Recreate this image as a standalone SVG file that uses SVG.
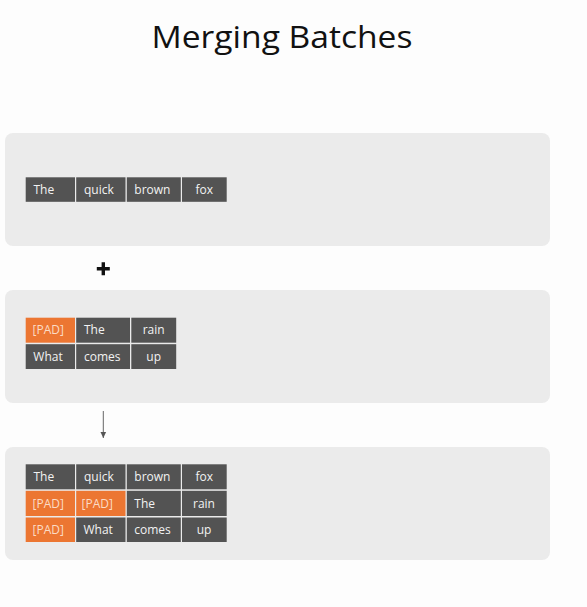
<svg xmlns="http://www.w3.org/2000/svg" width="587" height="607" viewBox="0 0 587 607">
<defs>
<style>
.panel{fill:#ebebeb}
.dark{fill:#535353}
.pad{fill:#ec7632}
.t{font-family:"Open Sans","Liberation Sans",sans-serif;font-size:12px;fill:#f2f2f2}
.tp{font-family:"Open Sans","Liberation Sans",sans-serif;font-size:12px;fill:#fbdcc6}
.c{text-anchor:middle}
.title{font-family:"Open Sans","Liberation Sans",sans-serif;font-size:31px;fill:#111}
</style>
<marker id="ah" markerWidth="8" markerHeight="8" refX="7" refY="4" orient="auto" markerUnits="userSpaceOnUse" viewBox="0 0 8 8">
<path d="M1,1.2 L7,4 L1,6.8 Z" fill="#555"/>
</marker>
</defs>
<rect width="587" height="607" fill="#fdfdfd"/>
<text class="title" x="282" y="48" text-anchor="middle" textLength="261" lengthAdjust="spacingAndGlyphs">Merging Batches</text>

<g id="batch1">
<rect class="panel" x="5" y="133" width="545" height="113" rx="8"/>
<rect class="dark" x="25.7" y="177.3" width="49.3" height="24.5"/>
<rect class="dark" x="76.2" y="177.3" width="49.3" height="24.5"/>
<rect class="dark" x="126.8" y="177.3" width="54" height="24.5"/>
<rect class="dark" x="182" y="177.3" width="44.7" height="24.5"/>
<text class="t" x="33.5" y="193.7">The</text>
<text class="t" x="84" y="193.7">quick</text>
<text class="t" x="134.3" y="193.7">brown</text>
<text class="t c" x="204.3" y="193.7">fox</text>
</g>

<g id="batch2">
<rect class="panel" x="5" y="290" width="545" height="113" rx="8"/>
<rect class="pad" x="25.7" y="317.7" width="49.3" height="25"/>
<rect class="dark" x="76.2" y="317.7" width="53.8" height="25"/>
<rect class="dark" x="131.3" y="317.7" width="44.9" height="25"/>
<rect class="dark" x="25.7" y="344.2" width="49.3" height="24.8"/>
<rect class="dark" x="76.2" y="344.2" width="53.8" height="24.8"/>
<rect class="dark" x="131.3" y="344.2" width="44.9" height="24.8"/>
<text class="tp" x="32.5" y="334.4">[PAD]</text>
<text class="t" x="84" y="334.4">The</text>
<text class="t c" x="153.7" y="334.4">rain</text>
<text class="t" x="33.3" y="360.8">What</text>
<text class="t" x="84" y="360.8">comes</text>
<text class="t c" x="153.7" y="360.8">up</text>
</g>

<g id="merged">
<rect class="panel" x="5" y="447" width="545" height="113" rx="8"/>
<rect class="dark" x="25.7" y="464.3" width="49.3" height="25"/>
<rect class="dark" x="76.2" y="464.3" width="49.3" height="25"/>
<rect class="dark" x="126.8" y="464.3" width="54" height="25"/>
<rect class="dark" x="182" y="464.3" width="44.7" height="25"/>
<rect class="pad" x="25.7" y="490.8" width="49.3" height="25.2"/>
<rect class="pad" x="76.2" y="490.8" width="49.3" height="25.2"/>
<rect class="dark" x="126.8" y="490.8" width="54" height="25.2"/>
<rect class="dark" x="182" y="490.8" width="44.7" height="25.2"/>
<rect class="pad" x="25.7" y="517.5" width="49.3" height="24.5"/>
<rect class="dark" x="76.2" y="517.5" width="49.3" height="24.5"/>
<rect class="dark" x="126.8" y="517.5" width="54" height="24.5"/>
<rect class="dark" x="182" y="517.5" width="44.7" height="24.5"/>
<text class="t" x="33.5" y="481.2">The</text>
<text class="t" x="84" y="481.2">quick</text>
<text class="t" x="134.3" y="481.2">brown</text>
<text class="t c" x="204.3" y="481.2">fox</text>
<text class="tp" x="32.5" y="507.7">[PAD]</text>
<text class="tp" x="81.5" y="507.7">[PAD]</text>
<text class="t" x="134.3" y="507.7">The</text>
<text class="t c" x="204" y="507.7">rain</text>
<text class="tp" x="32.5" y="534">[PAD]</text>
<text class="t" x="83.5" y="534">What</text>
<text class="t" x="134.3" y="534">comes</text>
<text class="t c" x="204" y="534">up</text>
</g>

<g id="connectors">
<path d="M96.8,268.8 H109.8 M103.3,262.3 V275.3" stroke="#111" stroke-width="3.4" fill="none"/>
<line x1="103.3" y1="411" x2="103.3" y2="438" stroke="#666" stroke-width="1" marker-end="url(#ah)"/>
</g>
</svg>
